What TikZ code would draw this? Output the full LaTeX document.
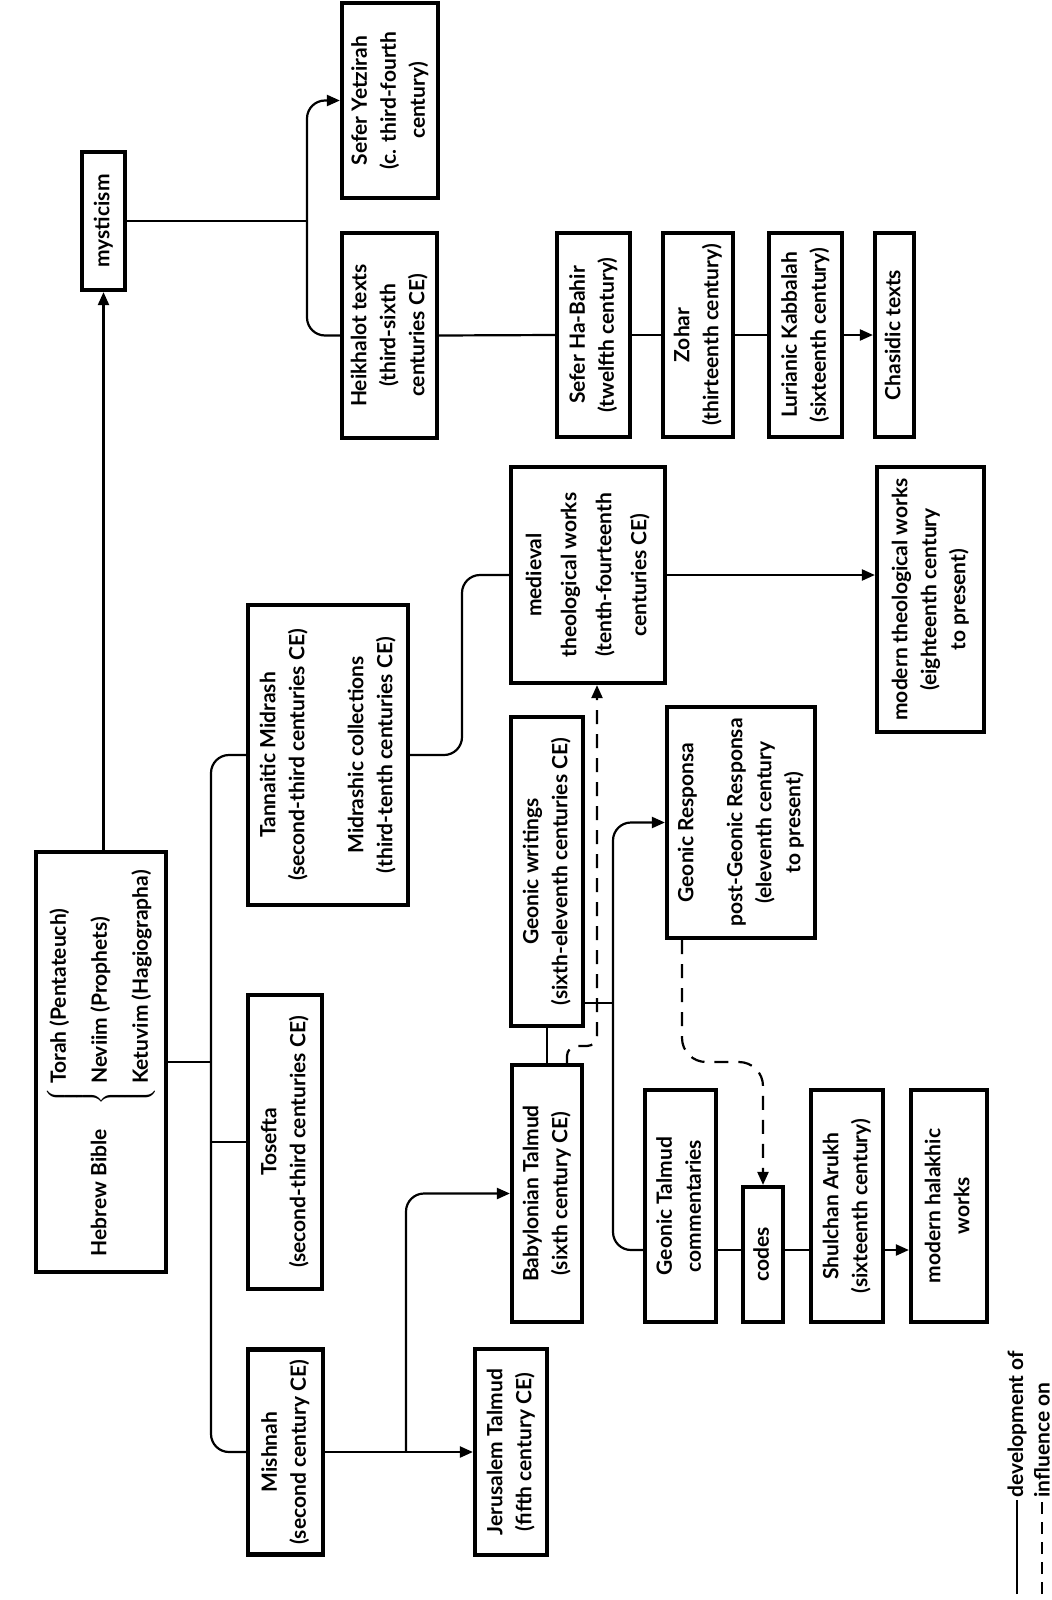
\documentclass[tikz,border=0pt]{standalone}
\usepackage{fontspec}
\setmainfont{Lato}
\usepackage{graphicx}
\usetikzlibrary{arrows.meta}

\newcommand{\vstack}[1]{\rotatebox{90}{\begin{tabular}{@{}c@{}}#1\end{tabular}}}

\begin{document}
\begin{tikzpicture}[
  x=0.5pt, y=-0.5pt,
  work/.style={draw=black, line width=2.1pt, inner sep=0pt, align=center,
    font=\bfseries\fontsize{10.5}{14.5}\selectfont},
  lnk/.style={black, line width=1.1pt},
  arr/.style={lnk, -{Triangle[length=6.5pt,width=5.5pt]}},
  infl/.style={arr, dash pattern=on 7pt off 5pt},
  rc/.style={rounded corners=9pt},
  legend/.style={font=\bfseries\fontsize{10.5}{12}\selectfont, rotate=90,
    anchor=west, inner sep=1pt}
]
\useasboundingbox (0,0) rectangle (1052,1600);

\node[work, minimum width=21.5pt, minimum height=69pt] (myst) at (103.5,221) {\vstack{mysticism}};
\node[work, minimum width=48pt, minimum height=97.5pt] (yetz) at (390,100.5) {\vstack{Sefer Yetzirah\\(c. third-fourth\\century)}};
\node[work, minimum width=47.5pt, minimum height=102.5pt] (heik) at (389.5,335.5) {\vstack{Heikhalot texts\\(third-sixth\\centuries CE)}};
\node[work, minimum width=36.5pt, minimum height=102pt] (bahir) at (593.5,335) {\vstack{Sefer Ha-Bahir\\(twelfth century)}};
\node[work, minimum width=35pt, minimum height=102pt] (zohar) at (698,335) {\vstack{Zohar\\(thirteenth century)}};
\node[work, minimum width=36.5pt, minimum height=102pt] (luria) at (805.5,335) {\vstack{Lurianic Kabbalah\\(sixteenth century)}};
\node[work, minimum width=19.5pt, minimum height=102pt] (chas) at (894.5,335) {\vstack{Chasidic texts}};

\node[work, minimum width=80pt, minimum height=150pt] (midr) at (328,755) {\vstack{Tannaitic Midrash\\(second-third centuries CE)\\[15pt]Midrashic collections\\(third-tenth centuries CE)}};
\node[work, minimum width=77pt, minimum height=108pt] (medv) at (588,575) {\vstack{medieval\\[3pt]theological works\\[3pt](tenth-fourteenth\\[3pt]centuries CE)}};
\node[work, minimum width=53.5pt, minimum height=132.5pt] (modth) at (930.5,599.5) {\vstack{modern theological works\\(eighteenth century\\to present)}};

\node[work, minimum width=65pt, minimum height=210pt] (bible) at (101,1062) {\rotatebox{90}{Hebrew Bible\hspace{12pt}$\left\{\,\begin{tabular}{@{}l@{}}Torah (Pentateuch)\\[6pt]Neviim (Prophets)\\[6pt]Ketuvim (Hagiographa)\end{tabular}\right.$}};
\node[work, minimum width=37pt, minimum height=147pt] (tos) at (285,1142) {\vstack{Tosefta\\(second-third centuries CE)}};
\node[work, minimum width=37.5pt, minimum height=102.5pt] (mish) at (285.5,1452) {\vstack{Mishnah\\(second century CE)}};

\node[work, minimum width=36pt, minimum height=154.5pt] (gwrit) at (547,871.5) {\vstack{Geonic writings\\(sixth-eleventh centuries CE)}};
\node[work, minimum width=74pt, minimum height=115.5pt] (gresp) at (741,822.5) {\vstack{Geonic Responsa\\[10pt]post-Geonic Responsa\\(eleventh century\\to present)}};
\node[work, minimum width=35pt, minimum height=128.5pt] (bavli) at (547,1193.5) {\vstack{Babylonian Talmud\\(sixth century CE)}};
\node[work, minimum width=36pt, minimum height=103pt] (yeru) at (511,1452) {\vstack{Jerusalem Talmud\\(fifth century CE)}};
\node[work, minimum width=35.5pt, minimum height=116pt] (gcomm) at (680.5,1206) {\vstack{Geonic Talmud\\commentaries}};
\node[work, minimum width=20pt, minimum height=67.5pt] (codes) at (763,1254.5) {\vstack{codes}};
\node[work, minimum width=36pt, minimum height=116pt] (shul) at (847,1206) {\vstack{Shulchan Arukh\\(sixteenth century)}};
\node[work, minimum width=38pt, minimum height=116pt] (modhal) at (949,1206) {\vstack{modern halakhic\\works}};

\coordinate (busM) at (307,0);
\coordinate (busB) at (211,0);
\coordinate (busT) at (462,0);
\coordinate (busJ) at (406,0);
\coordinate (busG) at (613,1003);
\coordinate (rowH) at (0,1250);
\coordinate (dashA) at (597,1046);
\coordinate (dashB) at (0,1062);

\draw[arr] (myst.south |- bible.north) -- (myst.south);
\draw[lnk] (myst.east) -- (myst.east -| busM);
\draw[arr, rc] (heik.west) -| (busM |- yetz.west) -- (yetz.west);
\draw[lnk] (heik.east) -- (bahir.west);
\draw[lnk] (bahir.east) -- (zohar.west);
\draw[lnk] (zohar.east) -- (luria.west);
\draw[arr] (luria.east) -- (chas.west);

\draw[lnk] (bible.east) -- (bible.east -| busB);
\draw[lnk, rc] (midr.west) -| (busB |- mish.west) -- (mish.west);
\draw[lnk] (tos.west) -- (tos.west -| busB);
\draw[lnk, rc] (midr.east) -| (busT |- medv.west) -- (medv.west);
\draw[arr] (medv.east) -- (medv.east -| modth.west);

\draw[arr] (mish.east) -- (yeru.west);
\draw[arr, rc] (mish.east -| busJ) |- (bavli.west);
\draw[lnk] (bavli.north) -- (gwrit.south);
\draw[lnk] (busG -| gwrit.east) -- (busG);
\draw[arr, rc] (gcomm.west |- rowH) -| (busG |- gresp.west) -- (gresp.west);
\draw[lnk] (gcomm.east |- rowH) -- (codes.west |- rowH);
\draw[lnk] (codes.east |- rowH) -- (shul.west |- rowH);
\draw[arr] (shul.east |- rowH) -- (modhal.west |- rowH);

\draw[infl, rounded corners=5pt] ([xshift=10pt]bavli.north) |- (dashA) -- (dashA |- medv.south);
\draw[infl, rounded corners=12pt] ([xshift=-29.5pt]gresp.south) |- (codes.north |- dashB) -- (codes.north);

\node[legend] (legdev) at (1017,1500) {development of};
\node[legend] (leginf) at (1042,1500) {influence on};
\coordinate (legdevEnd) at (1017,1594);
\coordinate (leginfEnd) at (1042,1594);
\draw[lnk] (legdevEnd) -- (legdev.west);
\draw[lnk, dash pattern=on 6pt off 4pt] (leginfEnd) -- (leginf.west);
\end{tikzpicture}
\end{document}
